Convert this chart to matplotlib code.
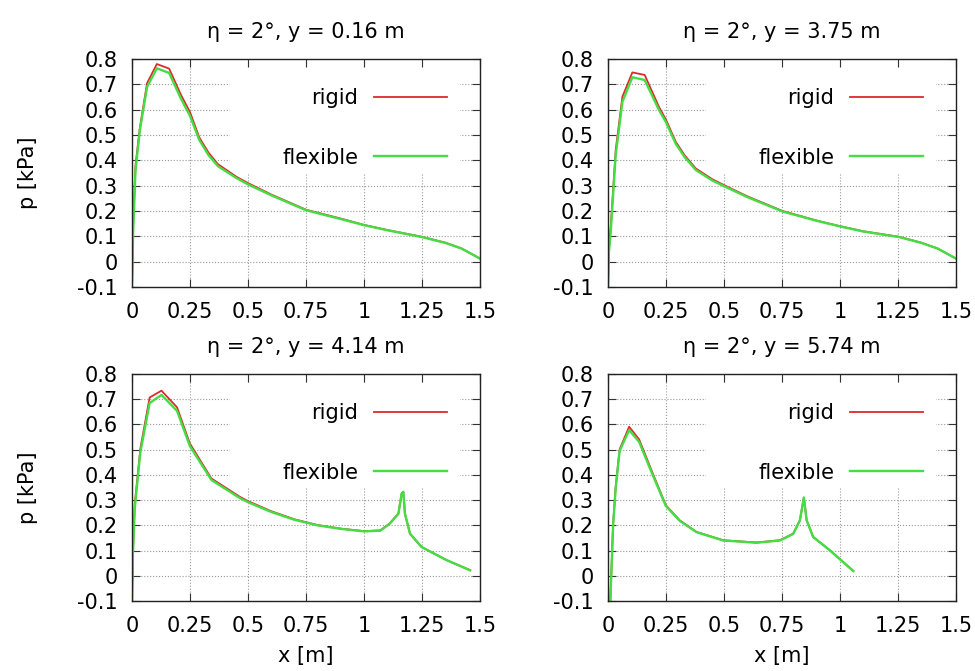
import numpy as np
import matplotlib
matplotlib.use("Agg")
import matplotlib.pyplot as plt
from matplotlib.patches import Rectangle
from matplotlib.ticker import FuncFormatter

plt.rcParams['font.family'] = ['DejaVu Sans']
plt.rcParams['axes.unicode_minus'] = False
FS = 15

# pressure distributions p(x) along the chord, four spanwise stations
titles = ['η = 2°, y = 0.16 m', 'η = 2°, y = 3.75 m',
          'η = 2°, y = 4.14 m', 'η = 2°, y = 5.74 m']

x_a = [0, 0.005, 0.015, 0.034, 0.065, 0.107, 0.16, 0.21, 0.25, 0.29, 0.33, 0.37,
       0.45, 0.5, 0.6, 0.75, 0.9, 1.0, 1.1, 1.25, 1.35, 1.42, 1.5]
rigid_a = [-0.1, 0.15, 0.38, 0.53, 0.705, 0.78, 0.762, 0.66, 0.59, 0.49, 0.43, 0.385,
           0.335, 0.31, 0.265, 0.205, 0.17, 0.145, 0.125, 0.098, 0.075, 0.052, 0.012]
flex_a = [-0.08, 0.12, 0.36, 0.52, 0.69, 0.763, 0.745, 0.645, 0.575, 0.48, 0.42, 0.377,
          0.33, 0.305, 0.262, 0.203, 0.168, 0.144, 0.124, 0.097, 0.074, 0.052, 0.012]

x_b = [0, 0.004, 0.012, 0.033, 0.062, 0.105, 0.158, 0.22, 0.25, 0.292, 0.33, 0.378,
       0.45, 0.5, 0.6, 0.752, 0.9, 1.0, 1.1, 1.255, 1.35, 1.42, 1.5]
rigid_b = [-0.1, 0.05, 0.14, 0.44, 0.651, 0.747, 0.737, 0.61, 0.56, 0.473, 0.42, 0.368,
           0.325, 0.302, 0.258, 0.2, 0.162, 0.14, 0.12, 0.098, 0.075, 0.052, 0.012]
flex_b = [-0.09, 0.04, 0.12, 0.42, 0.631, 0.728, 0.717, 0.598, 0.55, 0.465, 0.413, 0.362,
          0.32, 0.298, 0.255, 0.198, 0.161, 0.139, 0.119, 0.097, 0.074, 0.052, 0.012]

x_c = [0, 0.004, 0.012, 0.036, 0.076, 0.127, 0.194, 0.249, 0.342, 0.465, 0.5, 0.6, 0.7,
       0.8, 0.9, 1.0, 1.07, 1.11, 1.148, 1.162, 1.169, 1.176, 1.198, 1.248, 1.356, 1.457]
rigid_c = [-0.1, 0.1, 0.286, 0.505, 0.707, 0.734, 0.668, 0.525, 0.386, 0.313, 0.296, 0.256,
           0.224, 0.201, 0.187, 0.177, 0.18, 0.207, 0.247, 0.326, 0.333, 0.247, 0.167,
           0.114, 0.062, 0.022]
flex_c = [-0.1, 0.09, 0.27, 0.49, 0.685, 0.717, 0.654, 0.515, 0.38, 0.308, 0.292, 0.253,
          0.222, 0.2, 0.186, 0.176, 0.179, 0.206, 0.246, 0.326, 0.333, 0.247, 0.167,
          0.114, 0.062, 0.022]

x_d = [0.01, 0.022, 0.033, 0.05, 0.091, 0.134, 0.187, 0.249, 0.309, 0.381, 0.496, 0.64,
       0.741, 0.798, 0.827, 0.844, 0.856, 0.884, 0.956, 1.057]
rigid_d = [-0.1, 0.207, 0.353, 0.501, 0.591, 0.541, 0.419, 0.28, 0.22, 0.174, 0.141, 0.132,
           0.141, 0.167, 0.22, 0.31, 0.22, 0.154, 0.101, 0.019]
flex_d = [-0.1, 0.2, 0.345, 0.495, 0.578, 0.531, 0.412, 0.277, 0.218, 0.173, 0.14, 0.131,
          0.14, 0.166, 0.22, 0.31, 0.22, 0.154, 0.101, 0.019]

xs = [x_a, x_b, x_c, x_d]
rigids = [rigid_a, rigid_b, rigid_c, rigid_d]
flexes = [flex_a, flex_b, flex_c, flex_d]

x_ticks = [0, 0.25, 0.5, 0.75, 1.0, 1.25, 1.5]
y_ticks = [-0.1, 0, 0.1, 0.2, 0.3, 0.4, 0.5, 0.6, 0.7, 0.8]

fig = plt.figure(figsize=(9.75, 6.71), dpi=100)
boxes = [(0.1354, 0.5723, 0.357, 0.3398), (0.6236, 0.5723, 0.357, 0.3398),
         (0.1354, 0.1043, 0.357, 0.3383), (0.6236, 0.1043, 0.357, 0.3383)]

fmt = FuncFormatter(lambda v, pos: f'{round(v, 2):g}')

for i, box in enumerate(boxes):
    ax = fig.add_axes(box)
    ax.plot(xs[i], rigids[i], color='#dd2a2a', lw=1.3, label='rigid', zorder=2)
    ax.plot(xs[i], flexes[i], color='#44dd44', lw=1.7, label='flexible', zorder=2.1)
    ax.set_xlim(0, 1.5)
    ax.set_ylim(-0.1, 0.8)
    ax.set_xticks(x_ticks)
    ax.set_yticks(y_ticks)
    ax.xaxis.set_major_formatter(fmt)
    ax.yaxis.set_major_formatter(fmt)
    ax.tick_params(direction='in', length=5.8, width=0.8, color='#333333',
                   top=True, right=True, labelsize=FS)
    ax.tick_params(axis='x', pad=10.5)
    ax.tick_params(axis='y', pad=10.5)
    ax.grid(True, linestyle=':', color='#999999', linewidth=0.8)
    for sp in ax.spines.values():
        sp.set_color('#222222')
        sp.set_linewidth(1.0)

    # white key background hides the grid behind the legend
    ax.add_patch(Rectangle((0.282, 0.50), 0.661, 0.46, transform=ax.transAxes,
                           facecolor='white', edgecolor='none', zorder=1.8))
    ax.legend(loc='upper right', bbox_to_anchor=(0.905, 0.872), frameon=False,
              markerfirst=False, handlelength=3.5, handletextpad=0.77,
              labelspacing=1.9, borderpad=0, borderaxespad=0, fontsize=FS)

    ax.set_title(titles[i], fontsize=FS, pad=15)
    if i % 2 == 0:
        ax.set_ylabel('p [kPa]', fontsize=FS)
        ax.yaxis.set_label_coords(-0.27, 0.5)
    if i >= 2:
        ax.set_xlabel('x [m]', fontsize=FS)
        ax.xaxis.set_label_coords(0.5, -0.20)

fig.savefig('out.png', dpi=100)
